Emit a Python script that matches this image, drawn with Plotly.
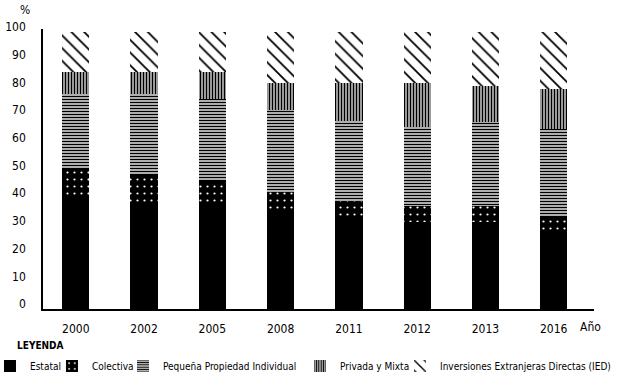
import plotly.graph_objects as go

years = ["2000", "2002", "2005", "2008", "2011", "2012", "2013", "2016"]
estatal = [40.3, 38.4, 38.4, 35.5, 33.5, 31.4, 31.5, 27.8]
colectiva = [10.1, 10.0, 7.9, 6.6, 5.5, 5.8, 5.6, 5.5]
pequena = [27.2, 29.2, 29.6, 29.7, 29.0, 28.4, 30.5, 31.6]
privada = [8.1, 8.1, 9.8, 9.9, 13.7, 16.1, 13.0, 14.4]
ied = [14.3, 14.3, 14.3, 18.3, 18.3, 18.3, 19.4, 20.7]
y_ticks = [0, 10, 20, 30, 40, 50, 60, 70, 80, 90, 100]

FONT = "DejaVu Sans Condensed, DejaVu Sans, sans-serif"

series = [
    ("Estatal", estatal, dict(shape="", bgcolor="black", fgcolor="black")),
    ("Colectiva", colectiva, dict(shape=".", bgcolor="black", fgcolor="white", size=7, solidity=0.08)),
    ("Pequeña Propiedad Individual", pequena, dict(shape="-", bgcolor="white", fgcolor="black", size=3, solidity=0.55)),
    ("Privada y Mixta", privada, dict(shape="|", bgcolor="white", fgcolor="black", size=3, solidity=0.6)),
    ("Inversiones Extranjeras Directas (IED)", ied, dict(shape="\\", bgcolor="white", fgcolor="black", size=9, solidity=0.2)),
]

# one legend per entry so each entry sits where the reference has it
legend_x = [-0.0962, 0.0163, 0.1452, 0.4664, 0.6479]
legend_names = ["legend", "legend2", "legend3", "legend4", "legend5"]

fig = go.Figure()
for (name, vals, pat), lg in zip(series, legend_names):
    fig.add_trace(go.Bar(
        x=years, y=vals, name=name, legend=lg,
        marker=dict(color="black", pattern=dict(fillmode="replace", **pat), line=dict(width=0)),
        width=0.4,
    ))

legend_common = dict(
    orientation="h", xanchor="left", y=-0.2036, yanchor="middle",
    font=dict(size=10), itemwidth=30, bgcolor="rgba(0,0,0,0)",
)
layout_legends = {lg: dict(x=x, **legend_common) for lg, x in zip(legend_names, legend_x)}

fig.update_layout(
    barmode="stack",
    width=625, height=384,
    margin=dict(l=43, r=31, t=29, b=75, autoexpand=False),
    paper_bgcolor="white", plot_bgcolor="white",
    font=dict(family=FONT, size=12, color="black"),
    showlegend=True,
    xaxis=dict(
        type="category", range=[-0.48, 7.59],
        showline=True, linecolor="black", linewidth=1.5,
        ticks="", showgrid=False, tickfont=dict(size=12), ticklabelstandoff=8,
    ),
    yaxis=dict(
        range=[0, 101.1], tickvals=y_ticks,
        showline=True, linecolor="black", linewidth=1.5,
        ticks="", showgrid=False, zeroline=False,
        tickfont=dict(size=12), ticklabelshift=-5, ticklabelstandoff=13,
    ),
    annotations=[
        dict(text="%", xref="paper", yref="paper", x=-0.0327, y=1.068, showarrow=False,
             xanchor="center", yanchor="middle", font=dict(size=12)),
        dict(text="Año", xref="paper", yref="paper", x=0.971, y=-0.064, showarrow=False,
             xanchor="left", yanchor="middle", font=dict(size=12)),
        dict(text="<b>LEYENDA</b>", xref="paper", yref="paper", x=-0.0508, y=-0.129,
             showarrow=False, xanchor="left", yanchor="middle", font=dict(size=10)),
    ],
    **layout_legends,
)

fig.write_html("out.html", config={"displayModeBar": False},
               post_script="document.body.style.margin='0px';")
